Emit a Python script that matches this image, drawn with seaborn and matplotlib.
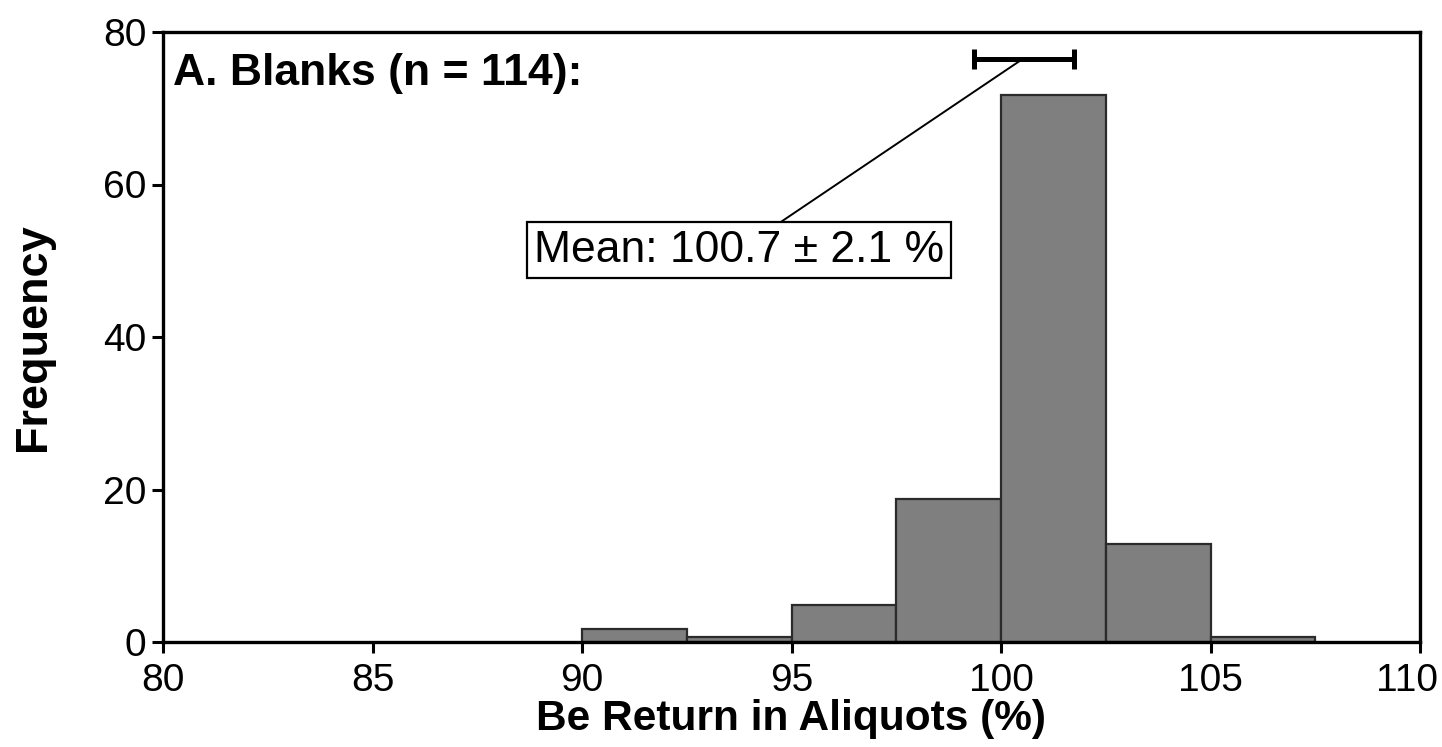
import numpy as np
import matplotlib
matplotlib.use("Agg")
import matplotlib.pyplot as plt
import matplotlib.transforms as mtransforms
import seaborn as sns

# Histogram of Be return in blank aliquots
bin_edges = [90.0, 92.5, 95.0, 97.5, 100.0, 102.5, 105.0, 107.5]
counts = [1.7, 0.6, 4.8, 18.8, 71.7, 12.8, 0.6]
mean_value = 100.7
mean_sd = 2.1
bar_halfwidth = 1.2
bar_level = 76.4

x_ticks = [80, 85, 90, 95, 100, 105, 110]
y_ticks = [0, 20, 40, 60, 80]

sns.set_theme(style="ticks")
plt.rcParams["font.family"] = ["Liberation Sans", "DejaVu Sans"]

fig = plt.figure(figsize=(14.42, 7.47), dpi=100)
ax = fig.add_axes([163 / 1442, 105 / 747, 1257 / 1442, 610 / 747])

centers = [(a + b) / 2 for a, b in zip(bin_edges[:-1], bin_edges[1:])]
sns.histplot(x=centers, weights=counts, bins=bin_edges, ax=ax,
             color="#7f7f7f", edgecolor="#2b2b2b", linewidth=1.6, alpha=1.0)

ax.set_xlim(80, 110)
ax.set_ylim(0, 80)
ax.set_xticks(x_ticks)
ax.set_yticks(y_ticks)
ax.tick_params(axis="both", direction="out", length=8, width=2.2,
               colors="black", labelsize=28)
ax.tick_params(axis="x", pad=7)
ax.tick_params(axis="y", pad=4)
for side in ["left", "right", "top", "bottom"]:
    ax.spines[side].set_visible(True)
    ax.spines[side].set_linewidth(2.4)
    ax.spines[side].set_color("black")

# keep the rightmost x tick label inside the figure
fig.canvas.draw()
last = ax.get_xticklabels()[-1]
last.set_transform(last.get_transform() +
                   mtransforms.ScaledTranslation(-13 / 100, 0, fig.dpi_scale_trans))

ax.set_xlabel("Be Return in Aliquots (%)", fontsize=30.5, fontweight="bold",
              labelpad=0, color="black")
ax.set_ylabel("Frequency", fontsize=32.5, fontweight="bold", labelpad=35,
              color="black")

ax.text(0.008, 0.932, "A. Blanks (n = 114):", transform=ax.transAxes,
        fontsize=32, fontweight="bold", ha="left", va="center", color="black")

# Mean marker with spread bar
ax.errorbar([mean_value - 0.15], [bar_level], xerr=[bar_halfwidth], fmt="none",
            ecolor="black", elinewidth=3.6, capsize=7, capthick=3.6, zorder=5)

ax.annotate(f"Mean: {mean_value} \u00b1 {mean_sd} %",
            xy=(mean_value - 0.2, bar_level), xytext=(93.75, 51.4),
            fontsize=32, ha="center", va="center", color="black",
            bbox=dict(boxstyle="square,pad=0.16", fc="white", ec="black", lw=1.6),
            arrowprops=dict(arrowstyle="-", color="black", lw=1.4,
                            shrinkA=0, shrinkB=0))

fig.savefig("out.png", dpi=100)
